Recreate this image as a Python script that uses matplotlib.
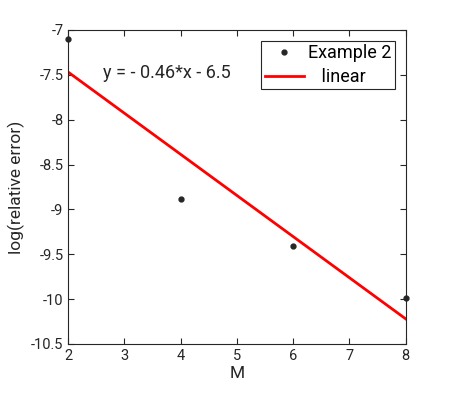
import matplotlib
matplotlib.use("Agg")
import matplotlib.pyplot as plt
from matplotlib import rcParams

rcParams['font.family'] = ['Roboto', 'DejaVu Sans']

M = [2, 4, 6, 8]
log_err = [-7.1, -8.88, -9.41, -9.99]
fit_x = [2, 8]
fit_y = [-7.47, -10.22]
fit_label = "y = - 0.46*x - 6.5"

fig = plt.figure(figsize=(4.49, 3.93), dpi=100)
ax = fig.add_axes([0.152, 0.1247, 0.7516, 0.799])
ax.plot(M, log_err, '.', color='#262626', ms=7, label='Example 2', clip_on=False, zorder=3)
ax.plot(fit_x, fit_y, '-', color='red', lw=2, label='   linear')
ax.text(2.62, -7.48, fit_label, fontsize=13, va='center', ha='left', color='#262626')

ax.set_xlim(2, 8)
ax.set_ylim(-10.5, -7)
ax.set_xticks(range(2, 9))
ax.set_yticks([-10.5, -10, -9.5, -9, -8.5, -8, -7.5, -7])
ax.set_yticklabels(['-10.5', '-10', '-9.5', '-9', '-8.5', '-8', '-7.5', '-7'])
ax.tick_params(direction='in', top=True, right=True, labelsize=10.5, colors='#262626', length=4)
for s in ax.spines.values():
    s.set_color('#262626')
    s.set_linewidth(0.8)
ax.set_xlabel("M", fontsize=12.5, color='#262626', labelpad=2)
ax.set_ylabel("log(relative error)", fontsize=12.5, color='#262626', labelpad=4)

leg = ax.legend(loc='upper right', fontsize=13, fancybox=False, framealpha=1,
                edgecolor='#262626', borderpad=0.2, handlelength=2.2, handletextpad=0.2,
                labelspacing=0.3, borderaxespad=0.6)
leg.get_frame().set_linewidth(0.8)

fig.savefig("out.png", dpi=100)
